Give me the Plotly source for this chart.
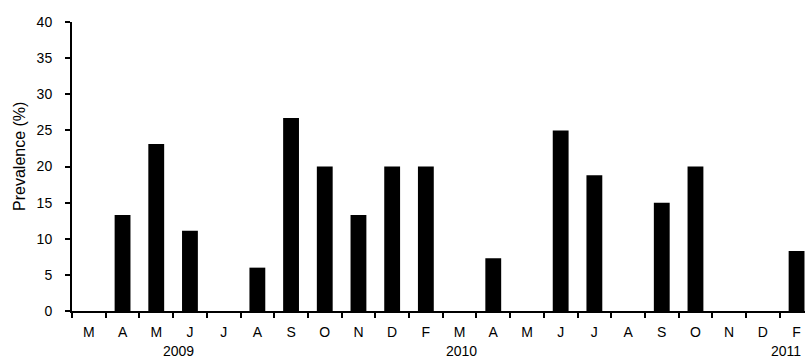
import plotly.graph_objects as go

months = ["M", "A", "M", "J", "J", "A", "S", "O", "N", "D", "F",
          "M", "A", "M", "J", "J", "A", "S", "O", "N", "D", "F"]
prevalence = [0, 13.3, 23.1, 11.1, 0, 6.0, 26.7, 20.0, 13.3, 20.0, 20.0,
              0, 7.3, 0, 25.0, 18.8, 0, 15.0, 20.0, 0, 0, 8.3]
year_labels = ["2009", "2010", "2011"]
year_pos = [2.67, 11.07, 21.18]
year_anchor = ["center", "center", "right"]
y_ticks = [0, 5, 10, 15, 20, 25, 30, 35, 40]

idx = list(range(len(months)))
font = dict(family="Liberation Sans, Arial, sans-serif", size=14, color="black")

fig = go.Figure()
fig.add_trace(go.Bar(x=idx, y=prevalence, width=0.47,
                     marker=dict(color="black", line=dict(width=0))))

fig.update_layout(
    width=805, height=358,
    margin=dict(l=72, r=0, t=22, b=47, autoexpand=False),
    plot_bgcolor="white", paper_bgcolor="white",
    showlegend=False, font=font,
)
fig.update_xaxes(
    range=[-0.5, 21.25], tickmode="array", tickvals=idx, ticktext=months,
    showline=True, linecolor="black", linewidth=2,
    showgrid=False, zeroline=False, ticks="", tickfont=font,
    automargin=False, ticklabelstandoff=7,
    minor=dict(tickmode="array", tickvals=[i - 0.5 for i in idx],
               ticks="outside", ticklen=5, tickwidth=2, tickcolor="black",
               showgrid=False),
)
fig.update_yaxes(
    range=[0, 40], tickmode="array", tickvals=y_ticks,
    showline=True, linecolor="black", linewidth=2,
    ticks="outside", ticklen=5, tickwidth=2, tickcolor="black",
    showgrid=False, zeroline=False, tickfont=font,
    automargin=False, ticklabelstandoff=10,
)

for lab, pos, anc in zip(year_labels, year_pos, year_anchor):
    fig.add_annotation(x=pos, y=0, xref="x", yref="paper", text=lab,
                       xanchor=anc, yanchor="middle",
                       showarrow=False, yshift=-40, font=font)

fig.add_annotation(x=(20 - 72) / 733, y=0.533, xref="paper", yref="paper",
                   xanchor="center", yanchor="middle",
                   text="Prevalence (%)", textangle=-90, showarrow=False,
                   font=dict(family=font["family"], size=16, color="black"))

fig.write_html("out.html",
               config={"displayModeBar": False},
               post_script="document.body.style.margin='0';document.body.style.overflow='hidden';")
